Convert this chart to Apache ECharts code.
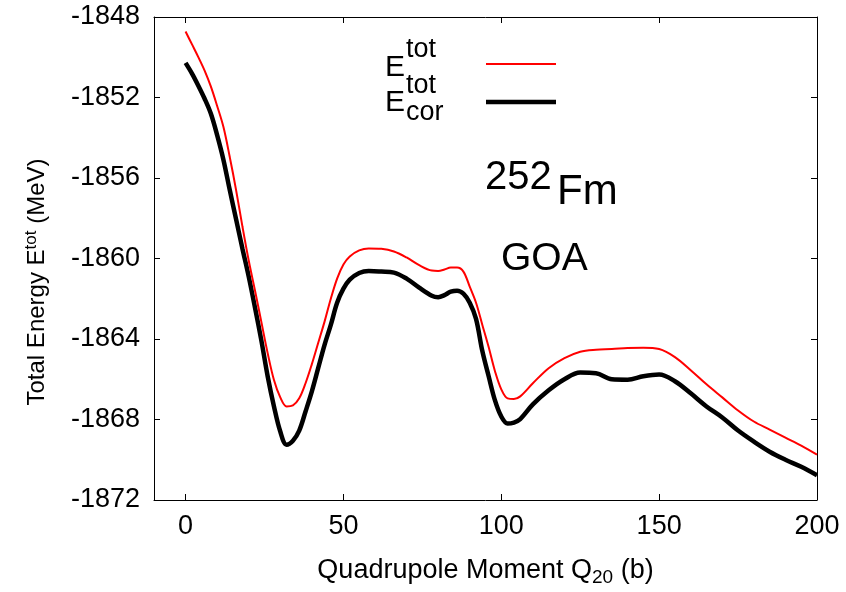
<!DOCTYPE html>
<html>
<head>
<meta charset="utf-8">
<script src="https://cdn.jsdelivr.net/npm/echarts@6/dist/echarts.min.js"></script>
<style>html,body{margin:0;padding:0;background:#fff}#c{width:846px;height:592px}</style>
</head>
<body>
<div id="c"></div>
<script>
const qValues = [0,2,4,6,8,10,12,14,16,18,20,22,24,26,28,30,32,34,36,38,40,42,44,46,48,50,52,55,58,62,66,70,74,78,80,82,84,86,88,90,92,94,96,98,100,102,104,106,110,115,120,125,130,135,140,145,150,155,160,165,170,175,180,185,190,195,200];
const eTot = [-1848.72,-1849.35,-1849.98,-1850.65,-1851.45,-1852.42,-1853.47,-1854.96,-1856.6,-1858.4,-1860.1,-1861.6,-1863.15,-1864.7,-1866.04,-1866.9,-1867.35,-1867.3,-1866.95,-1866.2,-1865.25,-1864.2,-1863.15,-1862.0,-1861.0,-1860.3,-1859.9,-1859.6,-1859.5,-1859.52,-1859.65,-1859.95,-1860.33,-1860.6,-1860.62,-1860.55,-1860.45,-1860.45,-1860.65,-1861.4,-1862.2,-1863.3,-1864.4,-1865.6,-1866.5,-1866.95,-1866.98,-1866.85,-1866.2,-1865.45,-1864.95,-1864.63,-1864.53,-1864.5,-1864.45,-1864.43,-1864.5,-1864.9,-1865.55,-1866.25,-1866.9,-1867.55,-1868.1,-1868.5,-1868.9,-1869.3,-1869.75];
const eCor = [-1850.28,-1850.8,-1851.4,-1852.05,-1852.8,-1853.87,-1855.1,-1856.6,-1858.05,-1859.5,-1860.9,-1862.45,-1864.07,-1865.85,-1867.35,-1868.6,-1869.25,-1869.05,-1868.55,-1867.6,-1866.6,-1865.45,-1864.3,-1863.3,-1862.2,-1861.5,-1861.05,-1860.72,-1860.62,-1860.65,-1860.7,-1861.0,-1861.45,-1861.85,-1861.92,-1861.82,-1861.65,-1861.6,-1861.75,-1862.2,-1863.0,-1864.6,-1865.85,-1867.05,-1867.85,-1868.2,-1868.15,-1867.98,-1867.25,-1866.55,-1866.0,-1865.67,-1865.7,-1866.0,-1866.02,-1865.85,-1865.77,-1866.1,-1866.7,-1867.35,-1867.9,-1868.55,-1869.1,-1869.6,-1870.0,-1870.35,-1870.77];
const xTicks = [0,50,100,150,200];
const yTicks = [-1872,-1868,-1864,-1860,-1856,-1852,-1848];
const xRange = [-10,200];
const yRange = [-1872,-1848];
const yStep = 4;

const FONT = 'Liberation Sans, Arial, sans-serif';
const chart = echarts.init(document.getElementById('c'));
const toPairs = ys => qValues.map((q,i)=>[q, ys[i]]);

function xAxisDef(pos, showLabel){
  return {
    type:'value', min:xRange[0], max:xRange[1], position:pos,
    splitLine:{show:false},
    axisLine:{show:true, onZero:false, lineStyle:{color:'#000', width:1}},
    axisTick:{show:true, inside:true, length:6, customValues:xTicks, lineStyle:{color:'#000', width:1}},
    axisLabel:{show:showLabel, customValues:xTicks, color:'#000', fontSize:27, fontFamily:FONT, margin:13}
  };
}
function yAxisDef(pos, showLabel, showTick, showLine){
  return {
    type:'value', min:yRange[0], max:yRange[1], interval:yStep, position:pos, offset:0,
    splitLine:{show:false},
    axisLine:{show:showLine, onZero:false, lineStyle:{color:'#000', width:1}},
    axisTick:{show:showTick, inside:true, length:6, lineStyle:{color:'#000', width:1}},
    axisLabel:{show:showLabel, color:'#000', fontSize:27, fontFamily:FONT, margin:14,
      formatter: v => (yTicks.indexOf(v) >= 0 ? String(v) : '')}
  };
}

const xBottom = xAxisDef('bottom', true);
xBottom.name = '{a|Quadrupole Moment Q}{s|20}{a| (b)}';
xBottom.nameLocation = 'middle';
xBottom.nameGap = 55;
xBottom.nameTextStyle = {rich:{a:{fontSize:27, fontFamily:FONT, color:'#000', lineHeight:32}, s:{fontSize:19, fontFamily:FONT, color:'#000', padding:[13,0,0,0]}}};

chart.setOption({
  animation:false,
  backgroundColor:'#fff',
  grid:{left:154, right:29, top:17, bottom:87},
  xAxis:[xBottom, xAxisDef('top', false)],
  yAxis:[yAxisDef('left', true, false, true), yAxisDef('right', false, true, true), yAxisDef('left', false, true, false)],
  series:[
    {name:'Etot', type:'line', data:toPairs(eTot), showSymbol:false, smooth:0.35,
     lineStyle:{color:'#ff0000', width:2}, itemStyle:{color:'#ff0000'}, z:3},
    {name:'Ecor', type:'line', data:toPairs(eCor), showSymbol:false, smooth:0.35,
     lineStyle:{color:'#000', width:4.5}, itemStyle:{color:'#000'}, z:2}
  ],
  graphic:[
    {type:'text', x:37, y:282, rotation:Math.PI/2, style:{
      text:'{a|Total Energy E}{s|tot}{a| (MeV)}', align:'center', verticalAlign:'middle',
      rich:{a:{fontSize:24, fontFamily:FONT, fill:'#000', lineHeight:30}, s:{fontSize:17, fontFamily:FONT, fill:'#000', padding:[0,0,12,0]}}}},
    // legend
    {type:'text', x:385, y:68, style:{text:'E', fontSize:30, fontFamily:FONT, fill:'#000', align:'left', verticalAlign:'middle'}},
    {type:'text', x:406, y:50, style:{text:'tot', fontSize:27, fontFamily:FONT, fill:'#000', align:'left', verticalAlign:'middle'}},
    {type:'line', shape:{x1:486, y1:64, x2:556, y2:64}, style:{stroke:'#ff0000', lineWidth:2}},
    {type:'text', x:385, y:103, style:{text:'E', fontSize:30, fontFamily:FONT, fill:'#000', align:'left', verticalAlign:'middle'}},
    {type:'text', x:406, y:86, style:{text:'tot', fontSize:27, fontFamily:FONT, fill:'#000', align:'left', verticalAlign:'middle'}},
    {type:'text', x:406, y:113, style:{text:'cor', fontSize:27, fontFamily:FONT, fill:'#000', align:'left', verticalAlign:'middle'}},
    {type:'line', shape:{x1:486, y1:102, x2:556, y2:102}, style:{stroke:'#000', lineWidth:4.5}},
    // annotations
    {type:'text', x:485, y:178, style:{text:'252', fontSize:40, fontFamily:FONT, fill:'#000', align:'left', verticalAlign:'middle'}},
    {type:'text', x:557, y:192, style:{text:'Fm', fontSize:42, fontFamily:FONT, fill:'#000', align:'left', verticalAlign:'middle'}},
    {type:'text', x:501, y:259, style:{text:'GOA', fontSize:39, fontFamily:FONT, fill:'#000', align:'left', verticalAlign:'middle'}}
  ]
});
</script>
</body>
</html>
